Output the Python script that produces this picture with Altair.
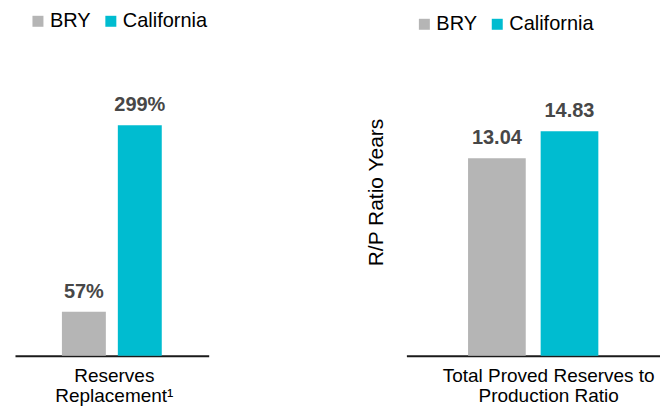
import altair as alt
import pandas as pd

series = ["BRY", "California"]
reserves_replacement = [57, 299]
reserves_labels = ["57%", "299%"]
rp_ratio = [13.04, 14.83]
rp_labels = ["13.04", "14.83"]
colors = ["#b5b5b5", "#00bcd0"]
left_title = ["Reserves", "Replacement\u00b9"]
right_title = ["Total Proved Reserves to", "Production Ratio"]
right_ytitle = "R/P Ratio Years"

FONT = "Liberation Sans"
H = 298

df1 = pd.DataFrame({"series": series, "value": reserves_replacement, "label": reserves_labels})
df2 = pd.DataFrame({"series": series, "value": rp_ratio, "label": rp_labels})


def panel(df, width, pad_inner, pad_outer, ymax, xtitle, xtitle_dx, yaxis, legend_x, legend_y):
    x = alt.X(
        "series:N", sort=series,
        scale=alt.Scale(paddingInner=pad_inner, paddingOuter=pad_outer),
        axis=alt.Axis(title=xtitle, labels=False, ticks=False, domain=True,
                      domainColor="#1a1a1a", domainWidth=2,
                      titleFontSize=19, titleFontWeight="normal", titleColor="#000000",
                      titleFont=FONT, titlePadding=11, titleLineHeight=20,
                      titleX=width / 2 + xtitle_dx),
    )
    y = alt.Y("value:Q", scale=alt.Scale(domain=[0, ymax], nice=False, zero=True), axis=yaxis)
    bars = alt.Chart(df).mark_bar().encode(
        x=x, y=y,
        color=alt.Color(
            "series:N", sort=series,
            scale=alt.Scale(domain=series, range=colors),
            legend=alt.Legend(orient="none", legendX=legend_x, legendY=legend_y,
                              direction="horizontal", title=None, symbolType="square",
                              symbolSize=121, symbolStrokeWidth=0, labelFontSize=20,
                              labelFont=FONT, labelColor="#000000", labelOffset=2,
                              columnPadding=10, padding=0),
        ),
    )
    text = alt.Chart(df).mark_text(
        dy=-14, baseline="alphabetic", fontSize=20, fontWeight="bold",
        color="#474747", font=FONT,
    ).encode(x=x, y=y, text="label:N")
    return alt.layer(bars, text).properties(width=width, height=H)


left = panel(df1, 194, 12 / 56, 47 / 56, H / 0.772, left_title, 2, None, 13, -47)

right_axis = alt.Axis(title=right_ytitle, labels=False, ticks=False, domain=False, grid=False,
                      titleFontSize=21, titleFontWeight="normal", titleColor="#000000",
                      titleFont=FONT, titleAngle=270, titleAlign="center",
                      titleBaseline="middle", titleX=-29.5, titleY=134)
right = panel(df2, 254, 15 / 73, 62 / 73, H / 15.17, right_title, 15, right_axis, 8, -44)

chart = alt.hconcat(left, right, spacing=157).resolve_scale(
    color="independent", y="independent", x="independent"
).resolve_legend(color="independent").configure_view(stroke=None).configure_axis(
    grid=False
).properties(padding={"left": 7, "top": 3, "right": 0, "bottom": 0})

chart.save("out.html", embed_options={"renderer": "svg", "actions": False})
